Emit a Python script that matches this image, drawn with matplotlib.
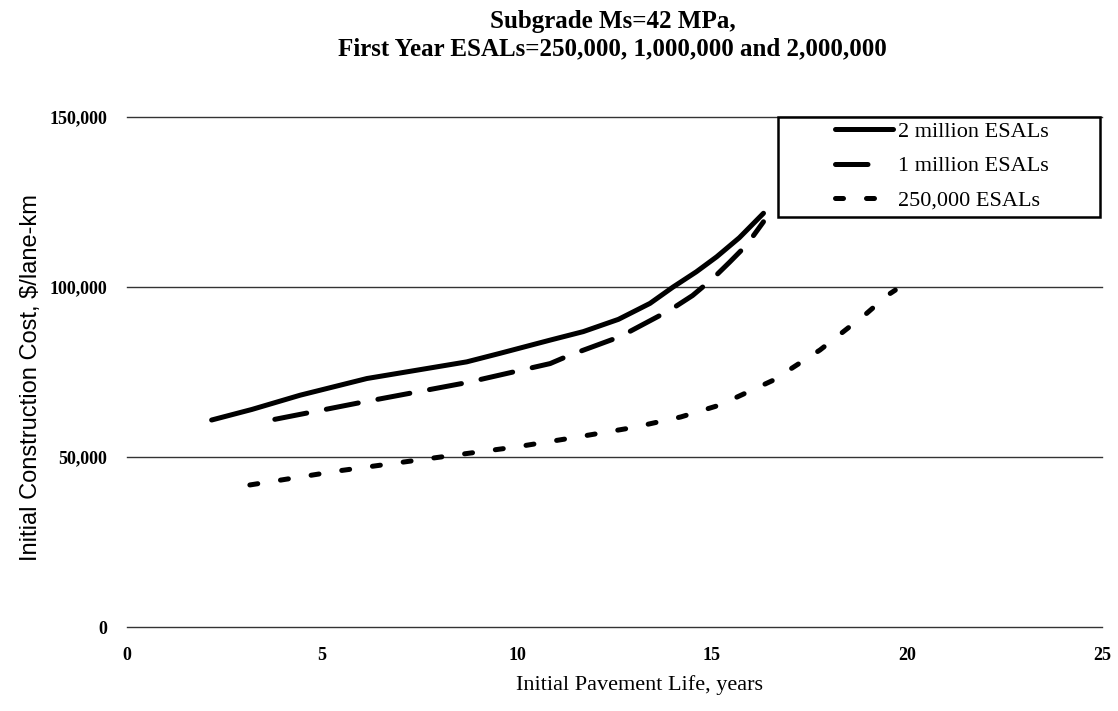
import matplotlib
matplotlib.use("Agg")
import matplotlib.pyplot as plt
from matplotlib.ticker import FuncFormatter
from matplotlib.patches import Rectangle

# Data
x_2m = [2.17, 3.2, 4.44, 6.15, 8.71, 9.56, 10.85, 11.7, 12.6, 13.41, 14.0, 14.6, 15.12, 15.7, 16.32]
y_2m = [60900, 64000, 68200, 73100, 78000, 80500, 84400, 86900, 90500, 95200, 100000, 104500, 108900, 114500, 121700]

x_1m = [3.79, 5.97, 8.71, 10.85, 11.36, 12.64, 13.92, 14.5, 15.03, 15.45, 15.89, 16.32]
y_1m = [61100, 66000, 71900, 77500, 80000, 85400, 93200, 97500, 102600, 107300, 112400, 119200]

x_250k = [3.15, 5.46, 7.77, 9.99, 11.5, 12.98, 14.2, 15.2, 16.57, 17.77, 18.97, 19.5, 19.7]
y_250k = [41800, 46000, 49600, 53000, 55800, 58700, 61800, 65300, 72600, 81500, 92300, 97600, 99100]

labels = ["2 million ESALs", "1 million ESALs", "250,000 ESALs"]
title_lines = ["Subgrade Ms=42 MPa,", "First Year ESALs=250,000, 1,000,000 and 2,000,000"]
x_ticks = [0, 5, 10, 15, 20, 25]
y_ticks = [0, 50000, 100000, 150000]

serif = ["Liberation Serif", "DejaVu Serif"]
narrow = ["Liberation Sans Narrow", "Liberation Sans", "DejaVu Sans"]

fig = plt.figure(figsize=(11.18, 7.11), dpi=100)
ax = fig.add_axes([0.1136, 0.118, 0.8721, 0.7174])

lw = 3.6
ax.plot(x_2m, y_2m, color="black", lw=lw, solid_capstyle="round", label=labels[0])
ax.plot(x_1m, y_1m, color="black", lw=lw, dashes=(6.5, 4.0), dash_capstyle="round", label=labels[1])
ax.plot(x_250k, y_250k, color="black", lw=lw, dashes=(1.6, 4.6), dash_capstyle="round", label=labels[2])

ax.set_xlim(0, 25)
ax.set_ylim(0, 150000)
ax.set_xticks(x_ticks)
ax.set_yticks(y_ticks)
ax.yaxis.set_major_formatter(FuncFormatter(lambda v, p: f"{int(v):,}"))
for s in ax.spines.values():
    s.set_visible(False)
ax.tick_params(axis="both", length=0)
ax.tick_params(axis="y", pad=14)
ax.tick_params(axis="x", pad=14)
for t in ax.get_xticklabels() + ax.get_yticklabels():
    t.set_fontfamily(serif)
    t.set_fontsize(13)
    t.set_fontweight("bold")
ax.grid(axis="y", color="#333333", lw=1.0)
for gl in ax.get_ygridlines():
    gl.set_clip_on(False)
ax.set_axisbelow(True)

ax.set_xlabel("Initial Pavement Life, years", fontfamily=serif, fontsize=16)
ax.xaxis.set_label_coords(0.526, -0.114)
ax.xaxis.label.set_va("center")
ax.set_ylabel("Initial Construction Cost, $/lane-km", fontfamily=narrow, fontsize=17)
ax.yaxis.set_label_coords(-0.098, 0.49)
ax.yaxis.label.set_va("center")

fig.text(0.548, 0.97, title_lines[0], ha="center", va="center", fontfamily=serif,
         fontsize=18, fontweight="bold")
fig.text(0.548, 0.932, title_lines[1], ha="center", va="center", fontfamily=serif,
         fontsize=18, fontweight="bold")

# legend box frame
ax.add_patch(Rectangle((0.668, 0.804), 0.330, 0.196, transform=ax.transAxes, fill=True,
                       facecolor="white", edgecolor="black", lw=1.8, zorder=4, clip_on=False))
leg = ax.legend(loc="upper left", bbox_to_anchor=(0.722, 1.0), frameon=False,
                prop={"family": serif, "size": 16}, handlelength=2.6, handletextpad=0.2,
                borderpad=0.2, labelspacing=0.62, borderaxespad=0)
leg.set_zorder(5)
leg.get_lines()[1].set_dashes((6.5, 8.0))

fig.savefig("out.png", dpi=100)
